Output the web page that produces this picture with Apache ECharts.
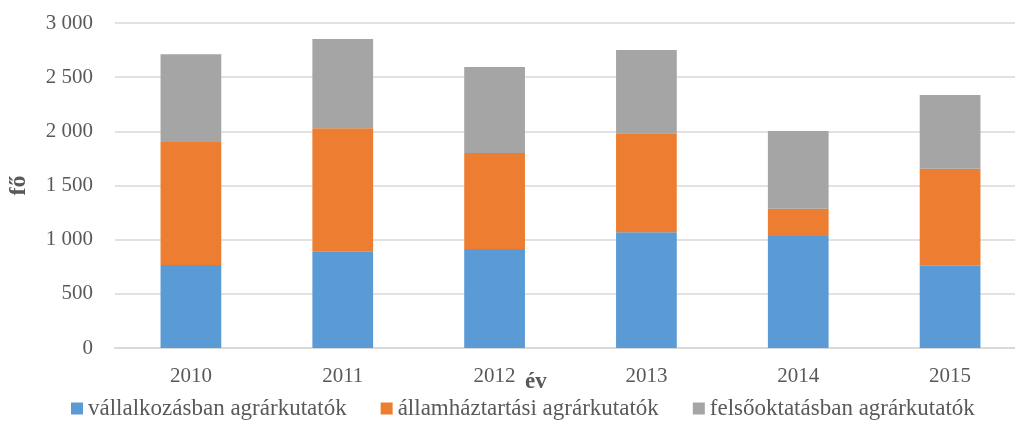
<!DOCTYPE html>
<html>
<head>
<meta charset="utf-8">
<script src="https://cdn.jsdelivr.net/npm/echarts@6/dist/echarts.min.js"></script>
<style>
  html, body { margin: 0; padding: 0; background: #fff; }
  #chart { width: 1015px; height: 425px; }
</style>
</head>
<body>
<div id="chart"></div>
<script>
// évek
var years = ['2010', '2011', '2012', '2013', '2014', '2015'];
// sorozatok (fő)
var vallalkozas = [766, 892, 914, 1068, 1034, 760];
var allamhaztartas = [1136, 1136, 886, 914, 252, 895];
var felsooktatas = [809, 824, 794, 769, 717, 680];
var seriesNames = ['vállalkozásban agrárkutatók', 'államháztartási agrárkutatók', 'felsőoktatásban agrárkutatók'];
var colors = ['#5b9bd5', '#ed7d31', '#a5a5a5'];

var font = 'Liberation Serif';
var textColor = '#595959';

var chart = echarts.init(document.getElementById('chart'));

function fmt(v) {
  return String(v).replace(/\B(?=(\d{3})+(?!\d))/g, ' ');
}

var series = [vallalkozas, allamhaztartas, felsooktatas].map(function (d, i) {
  return {
    name: seriesNames[i],
    type: 'bar',
    stack: 'total',
    barWidth: '40%',
    data: d
  };
});

chart.setOption({
  color: colors,
  animation: false,
  textStyle: { fontFamily: font, color: textColor },
  grid: { left: 115, right: -11, top: 23, bottom: 77, outerBoundsMode: 'none', containLabel: false },
  legend: {
    bottom: 0,
    left: 66,
    icon: 'rect',
    itemWidth: 12,
    itemHeight: 12,
    itemGap: 34,
    textStyle: { fontFamily: font, fontSize: 23, color: textColor },
    data: seriesNames
  },
  xAxis: {
    type: 'category',
    data: years,
    axisLine: { lineStyle: { color: '#d9d9d9', width: 2 } },
    axisTick: { show: false },
    axisLabel: { fontFamily: font, fontSize: 21, color: textColor, margin: 18 }
  },
  yAxis: {
    type: 'value',
    min: 0,
    max: 3000,
    interval: 500,
    name: 'fő',
    nameLocation: 'middle',
    nameGap: 84,
    nameTextStyle: { fontFamily: font, fontSize: 24, fontWeight: 'bold', color: textColor },
    axisLine: { show: false },
    axisTick: { show: false },
    splitLine: { lineStyle: { color: '#d9d9d9', width: 1.5 } },
    axisLabel: { fontFamily: font, fontSize: 21, color: textColor, margin: 22, formatter: fmt }
  },
  graphic: [{
    type: 'text',
    left: 525,
    top: 371,
    style: { text: 'év', fontFamily: font, fontSize: 23, fontWeight: 'bold', fill: textColor }
  }],
  series: series
});
</script>
</body>
</html>
